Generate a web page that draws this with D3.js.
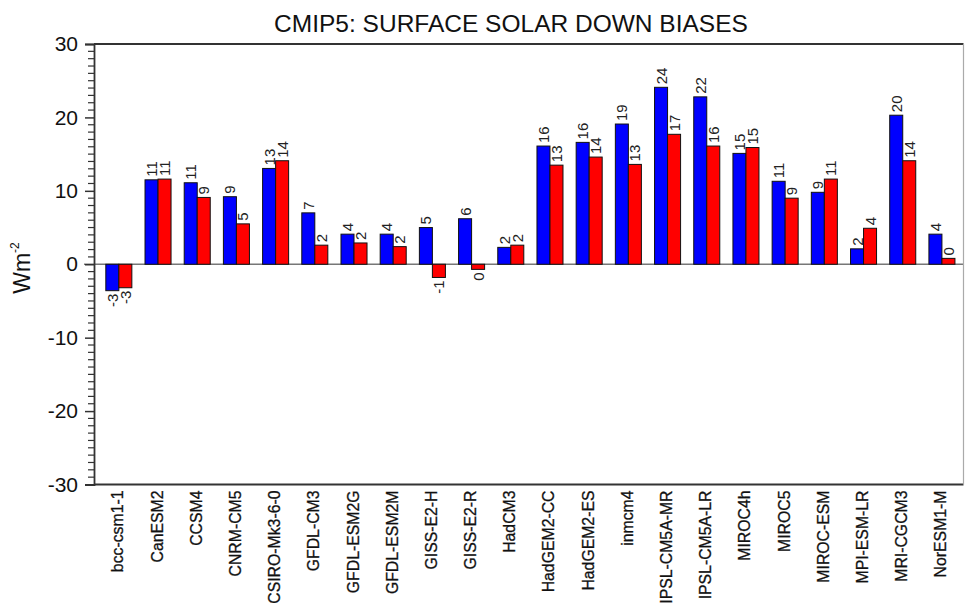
<!DOCTYPE html>
<html>
<head>
<meta charset="utf-8">
<script src="https://cdn.jsdelivr.net/npm/d3@7"></script>
<style>
  html, body { margin: 0; padding: 0; background: #fff; }
  svg { display: block; font-family: Arial, "Liberation Sans", Helvetica, sans-serif; }
</style>
</head>
<body>
<svg id="chart" width="966" height="603"></svg>
<script>
// CMIP5 models and their surface solar down bias (W m-2), two estimates per model
const models = [
  "bcc-csm1-1", "CanESM2", "CCSM4", "CNRM-CM5", "CSIRO-Mk3-6-0", "GFDL-CM3",
  "GFDL-ESM2G", "GFDL-ESM2M", "GISS-E2-H", "GISS-E2-R", "HadCM3", "HadGEM2-CC",
  "HadGEM2-ES", "inmcm4", "IPSL-CM5A-MR", "IPSL-CM5A-LR", "MIROC4h", "MIROC5",
  "MIROC-ESM", "MPI-ESM-LR", "MRI-CGCM3", "NorESM1-M"
];
const blueBias = [
  -3.6, 11.5, 11.1, 9.2, 13.05, 7.0,
  4.1, 4.1, 5.0, 6.2, 2.3, 16.1,
  16.6, 19.1, 24.1, 22.8, 15.1, 11.3,
  9.8, 2.1, 20.3, 4.1
];
const redBias = [
  -3.2, 11.6, 9.1, 5.5, 14.1, 2.6,
  2.9, 2.4, -1.8, -0.7, 2.6, 13.5,
  14.6, 13.6, 17.7, 16.1, 15.9, 9.0,
  11.6, 4.9, 14.1, 0.8
];
const yTickValues = [-30, -20, -10, 0, 10, 20, 30];
const yDomain = [-30, 30];
const seriesKeys = ["blue", "red"];
const seriesColors = ["#0000ff", "#ff0000"];

const svg = d3.select("#chart");
const plotLeft = 94, plotRight = 963.5, plotTop = 44, plotBottom = 484.5;

const y = d3.scaleLinear().domain(yDomain).range([plotBottom, plotTop]);
const x = d3.scaleBand().domain(models).range([plotLeft, plotRight])
  .paddingInner(0.336).paddingOuter(0.26).align(0.58);
const xs = d3.scaleBand().domain(seriesKeys).range([0, x.bandwidth()]);
const color = d3.scaleOrdinal().domain(seriesKeys).range(seriesColors);

const rows = models.map((m, i) => ({ model: m, values: [
  { key: "blue", v: blueBias[i] },
  { key: "red", v: redBias[i] }
]}));

// zero reference line
svg.append("line")
  .attr("x1", plotLeft - 10).attr("x2", plotRight)
  .attr("y1", y(0)).attr("y2", y(0))
  .attr("stroke", "#777").attr("stroke-width", 1.5);

// bars
const groups = svg.append("g").selectAll("g").data(rows).join("g")
  .attr("transform", d => `translate(${x(d.model)},0)`);

groups.selectAll("rect").data(d => d.values).join("rect")
  .attr("x", d => xs(d.key))
  .attr("width", xs.bandwidth())
  .attr("y", d => y(Math.max(0, d.v)))
  .attr("height", d => Math.abs(y(d.v) - y(0)))
  .attr("fill", d => color(d.key))
  .attr("stroke", "#111").attr("stroke-width", 1);

// value labels (truncated to integer), rotated
const fmt = v => String(Math.trunc(v) === 0 ? 0 : Math.trunc(v));
groups.selectAll("text").data(d => d.values).join("text")
  .attr("transform", d => {
    const cx = xs(d.key) + xs.bandwidth() / 2;
    const cy = d.v >= 0 ? y(d.v) - 3 : y(d.v) + 3;
    return `translate(${cx},${cy}) rotate(-90)`;
  })
  .attr("text-anchor", d => d.v >= 0 ? "start" : "end")
  .attr("dominant-baseline", "central")
  .attr("font-size", 15)
  .attr("fill", "#222")
  .text(d => fmt(d.v));

// frame
svg.append("line").attr("x1", plotLeft).attr("x2", plotRight).attr("y1", plotTop).attr("y2", plotTop)
  .attr("stroke", "#333").attr("stroke-width", 1.8);
svg.append("line").attr("x1", plotLeft).attr("x2", plotRight).attr("y1", plotBottom).attr("y2", plotBottom)
  .attr("stroke", "#333").attr("stroke-width", 1.8);
svg.append("line").attr("x1", plotRight).attr("x2", plotRight).attr("y1", plotTop).attr("y2", plotBottom)
  .attr("stroke", "#aaa").attr("stroke-width", 1.2);

// left axis: major ticks with labels, minor ticks every 1 unit
const yAxis = d3.axisLeft(y).tickValues(yTickValues).tickSize(9).tickPadding(7)
  .tickFormat(d => d < 0 ? "-" + Math.abs(d) : String(d));
const gy = svg.append("g").attr("transform", `translate(${plotLeft},0)`).call(yAxis);
gy.select(".domain").attr("stroke", "#333").attr("stroke-width", 1.8);
gy.selectAll(".tick line").attr("stroke", "#333").attr("stroke-width", 1.5);
gy.selectAll(".tick text").attr("font-size", 21).attr("fill", "#111")
  .attr("font-family", "Arial, 'Liberation Sans', sans-serif");

const minor = d3.range(yDomain[0], yDomain[1] + 1, 1).filter(v => v % 10 !== 0);
svg.append("g").selectAll("line").data(minor).join("line")
  .attr("x1", plotLeft - 6).attr("x2", plotLeft)
  .attr("y1", d => y(d)).attr("y2", d => y(d))
  .attr("stroke", "#333").attr("stroke-width", 1.2);

// category labels along the bottom
svg.append("g").selectAll("text").data(models).join("text")
  .attr("transform", d => `translate(${x(d) + x.bandwidth() / 2 - 1},${plotBottom + 6}) rotate(-90)`)
  .attr("text-anchor", "end")
  .attr("dominant-baseline", "central")
  .attr("font-size", 15.8)
  .attr("fill", "#111")
  .attr("stroke", "#111").attr("stroke-width", 0.3)
  .text(d => d);

// title
svg.append("text")
  .attr("x", 511).attr("y", 32)
  .attr("text-anchor", "middle")
  .attr("font-size", 24.5)
  .attr("fill", "#111")
  .text("CMIP5: SURFACE SOLAR DOWN BIASES");

// y-axis title with superscript
const yt = svg.append("text")
  .attr("transform", `translate(30,268) rotate(-90)`)
  .attr("text-anchor", "middle")
  .attr("font-size", 23)
  .attr("fill", "#111");
yt.append("tspan").text("Wm");
yt.append("tspan").attr("font-size", 12).attr("dy", -11).text("-2");
</script>
</body>
</html>
